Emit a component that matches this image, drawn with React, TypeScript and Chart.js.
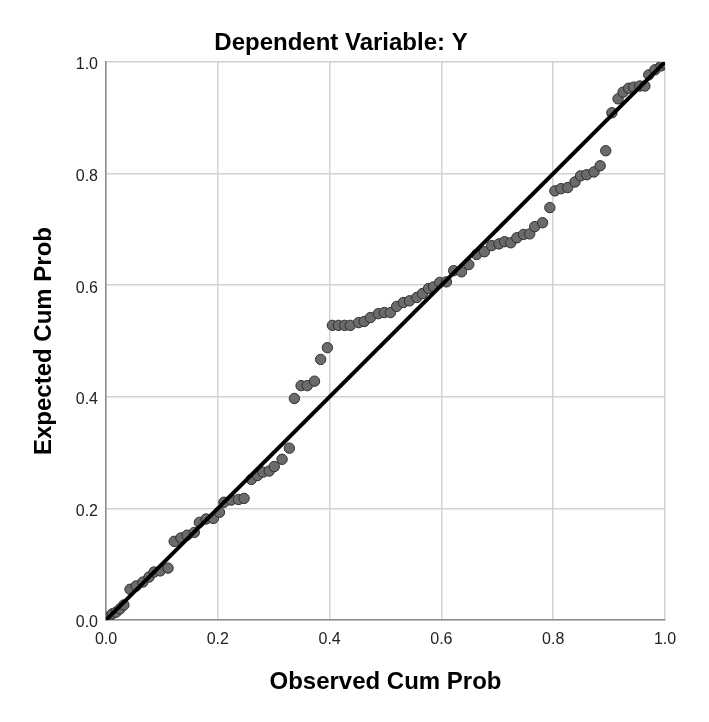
import React, { useEffect, useRef } from "react";
import { Chart, registerables } from "chart.js";

Chart.register(...registerables);

// P-P plot of regression standardized residuals
const observedCumProb: number[] = [
  0.004, 0.011, 0.018, 0.025, 0.032, 0.043, 0.054, 0.066, 0.077, 0.086,
  0.097, 0.111, 0.122, 0.134, 0.145, 0.158, 0.167, 0.179, 0.192, 0.203,
  0.211, 0.224, 0.237, 0.247, 0.26, 0.271, 0.281, 0.292, 0.301, 0.315,
  0.328, 0.337, 0.349, 0.36, 0.373, 0.384, 0.396, 0.405, 0.416, 0.427,
  0.437, 0.452, 0.462, 0.473, 0.487, 0.498, 0.509, 0.52, 0.532, 0.543,
  0.556, 0.566, 0.577, 0.586, 0.597, 0.609, 0.622, 0.636, 0.649, 0.663,
  0.677, 0.69, 0.703, 0.713, 0.724, 0.735, 0.747, 0.758, 0.767, 0.781,
  0.794, 0.803, 0.814, 0.826, 0.839, 0.849, 0.86, 0.873, 0.884, 0.894,
  0.905, 0.916, 0.925, 0.935, 0.944, 0.955, 0.964, 0.971, 0.982, 0.993,
  0.998,
];

const expectedCumProb: number[] = [
  0.005, 0.011, 0.014, 0.02, 0.027, 0.055, 0.061, 0.068, 0.077, 0.086,
  0.088, 0.093, 0.141, 0.147, 0.152, 0.157, 0.175, 0.181, 0.182, 0.193,
  0.211, 0.215, 0.216, 0.218, 0.252, 0.259, 0.265, 0.267, 0.275, 0.288,
  0.308, 0.397, 0.42, 0.42, 0.428, 0.467, 0.488, 0.528, 0.528, 0.528,
  0.528, 0.533, 0.535, 0.542, 0.549, 0.551, 0.551, 0.562, 0.569, 0.572,
  0.578, 0.585, 0.594, 0.597, 0.605, 0.606, 0.626, 0.624, 0.637, 0.655,
  0.66, 0.671, 0.674, 0.678, 0.676, 0.685, 0.691, 0.692, 0.705, 0.712,
  0.739, 0.769, 0.773, 0.775, 0.785, 0.796, 0.798, 0.803, 0.814, 0.841,
  0.909, 0.934, 0.946, 0.953, 0.955, 0.957, 0.957, 0.977, 0.986, 0.993,
  0.998,
];

// Reference diagonal (expected = observed)
const diagonalX: number[] = [0, 1];
const diagonalY: number[] = [0, 1];

const tickValues: number[] = [0, 0.2, 0.4, 0.6, 0.8, 1.0];

const chartTitle = "Dependent Variable: Y";
const xTitle = "Observed Cum Prob";
const yTitle = "Expected Cum Prob";

const FONT = '"Liberation Sans", Arial, sans-serif';

export default function App() {
  const canvasRef = useRef<HTMLCanvasElement | null>(null);

  useEffect(() => {
    const canvas = canvasRef.current;
    if (!canvas) return;

    const points = observedCumProb.map((x, i) => ({ x, y: expectedCumProb[i] }));
    const diagonal = diagonalX.map((x, i) => ({ x, y: diagonalY[i] }));

    const axisTicks = (scale: any) => {
      scale.ticks = tickValues.map((v) => ({ value: v }));
    };

    const chart = new Chart(canvas, {
      type: "scatter",
      data: {
        datasets: [
          {
            type: "line",
            data: diagonal,
            borderColor: "#000000",
            borderWidth: 4,
            pointRadius: 0,
            fill: false,
            order: 0,
          },
          {
            type: "scatter",
            data: points,
            backgroundColor: "#6b6b6b",
            borderColor: "#2e2e2e",
            borderWidth: 1,
            pointRadius: 5.2,
            order: 1,
          },
        ],
      },
      options: {
        animation: false,
        responsive: false,
        devicePixelRatio: 1,
        layout: { padding: { left: 0, right: 27, top: 0, bottom: 0 } },
        plugins: {
          legend: { display: false },
          tooltip: { enabled: false },
          title: {
            display: true,
            text: chartTitle,
            color: "#000000",
            font: { family: FONT, size: 24, weight: "bold", lineHeight: 1.2 },
            padding: { top: 28.6, bottom: 4.6 },
          },
        },
        scales: {
          x: {
            type: "linear",
            position: "bottom",
            min: 0,
            max: 1,
            afterBuildTicks: axisTicks,
            afterFit: (s: any) => {
              s.height = 102;
            },
            grid: { color: "#d2d2d2", lineWidth: 1.5, drawTicks: false },
            border: { display: true, color: "#8c8c8c", width: 1.5 },
            ticks: {
              color: "#222222",
              padding: 10,
              font: { family: FONT, size: 16 },
              callback: (v: any) => Number(v).toFixed(1),
            },
            title: {
              display: true,
              text: xTitle,
              color: "#000000",
              font: { family: FONT, size: 24, weight: "bold", lineHeight: 1.2 },
              padding: { top: 0, bottom: 25.6 },
            },
          },
          y: {
            type: "linear",
            position: "left",
            min: 0,
            max: 1,
            afterBuildTicks: axisTicks,
            afterFit: (s: any) => {
              s.width = 106;
            },
            grid: { color: "#d2d2d2", lineWidth: 1.5, drawTicks: false },
            border: { display: true, color: "#8c8c8c", width: 1.5 },
            ticks: {
              color: "#222222",
              padding: 8,
              labelOffset: 3,
              font: { family: FONT, size: 16 },
              callback: (v: any) => Number(v).toFixed(1),
            },
            title: {
              display: true,
              text: yTitle,
              color: "#000000",
              font: { family: FONT, size: 24, weight: "bold", lineHeight: 1.2 },
              padding: { top: 30.3, bottom: 0 },
            },
          },
          // empty right-hand strip that keeps the plot clear of the canvas edge
          yRight: {
            type: "linear",
            position: "right",
            min: 0,
            max: 1,
            afterFit: (s: any) => {
              s.width = 17;
            },
            grid: { display: false, drawTicks: false },
            border: { display: false },
            ticks: { display: false },
          },
        },
      },
    });

    return () => chart.destroy();
  }, []);

  return (
    <div style={{ position: "fixed", left: 0, top: 0, width: 709, height: 722, background: "#ffffff" }}>
      <canvas ref={canvasRef} width={709} height={722} style={{ display: "block" }} />
    </div>
  );
}
